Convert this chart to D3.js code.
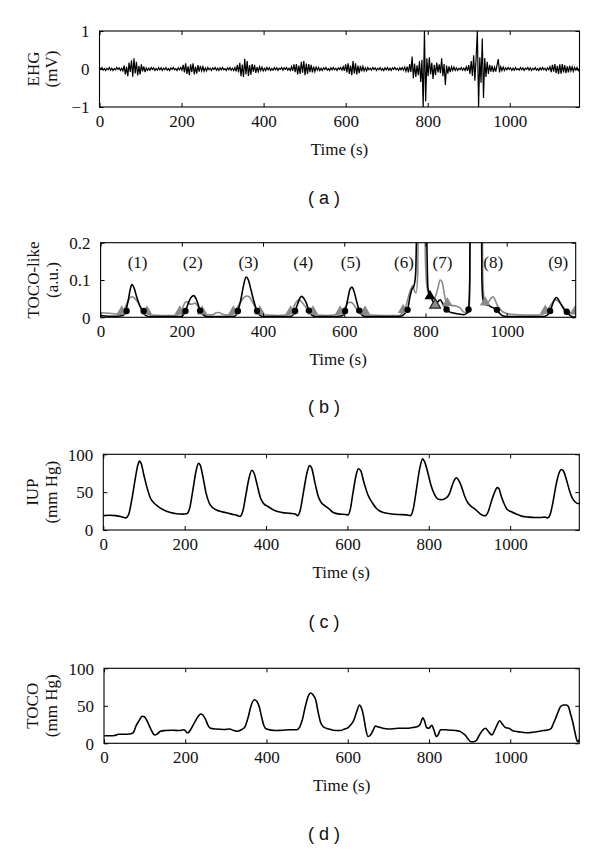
<!DOCTYPE html>
<html><head><meta charset="utf-8">
<script src="https://cdn.jsdelivr.net/npm/d3@7"></script>
<style>body{margin:0;background:#fff}</style>
</head><body><svg id="c" width="600" height="850"></svg>
<script>
// ---------- DATA ----------
const xTicks = [0, 200, 400, 600, 800, 1000];
const timeMax = 1170;

// EHG (mV), one sample every 3 s starting at 0 s
const ehgStep = 3;
const ehg = [
0.03,-0.01,0.04,-0.03,0.01,-0.04,0.02,-0.02,0.04,-0.03,
0.02,-0.04,0.01,-0.02,0.04,-0.01,0.03,-0.04,0.02,-0.05,
0.09,-0.14,0.06,-0.19,0.17,-0.08,0.23,-0.2,0.28,-0.12,
0.19,-0.17,0.08,-0.14,0.12,-0.06,0.07,-0.08,0.03,-0.04,
0.02,-0.03,0.04,-0.01,0.03,-0.04,0.01,-0.03,0.04,-0.02,
0.03,-0.04,0.02,-0.02,0.04,-0.03,0.01,-0.04,0.03,-0.01,
0.04,-0.02,0.01,-0.04,0.03,-0.02,0.04,-0.03,0.11,-0.09,
0.15,-0.13,0.07,-0.16,0.12,-0.08,0.15,-0.14,0.06,-0.12,
0.1,-0.07,0.08,-0.05,0.06,-0.06,0.03,-0.05,0.04,-0.02,
0.02,-0.04,0.03,-0.01,0.04,-0.03,0.02,-0.04,0.03,-0.02,
0.04,-0.02,0.01,-0.04,0.03,-0.02,0.04,-0.03,0.02,-0.04,
0.04,-0.06,0.11,-0.09,0.16,-0.19,0.12,-0.21,0.27,-0.14,
0.21,-0.18,0.1,-0.15,0.13,-0.07,0.11,-0.1,0.05,-0.07,
0.06,-0.04,0.05,-0.05,0.02,-0.04,0.04,-0.02,0.03,-0.04,
0.01,-0.03,0.04,-0.02,0.03,-0.04,0.02,-0.01,0.04,-0.03,
0.03,-0.01,0.04,-0.03,0.02,-0.04,0.06,-0.05,0.12,-0.08,
0.13,-0.14,0.09,-0.13,0.19,-0.1,0.21,-0.16,0.14,-0.13,
0.13,-0.08,0.11,-0.09,0.06,-0.07,0.05,-0.03,0.04,-0.04,
0.02,-0.04,0.03,-0.01,0.04,-0.03,0.01,-0.04,0.03,-0.02,
0.04,-0.02,0.02,-0.04,0.03,-0.01,0.04,-0.03,0.06,-0.05,
0.12,-0.09,0.15,-0.13,0.09,-0.16,0.21,-0.12,0.15,-0.14,
0.09,-0.11,0.08,-0.06,0.07,-0.05,0.03,-0.05,0.04,-0.02,
0.02,-0.03,0.04,-0.01,0.03,-0.04,0.02,-0.02,0.04,-0.03,
0.01,-0.04,0.03,-0.02,0.04,-0.03,0.02,-0.04,0.03,-0.01,
0.04,-0.02,0.02,-0.04,0.03,-0.02,0.04,-0.03,0.05,-0.06,
0.06,-0.09,0.13,-0.08,0.33,-0.24,0.14,-0.21,0.1,-0.16,
0.21,-0.34,0.24,-1.0,1.0,-0.85,0.28,-0.19,0.31,-0.14,
0.16,-0.26,0.11,-0.16,0.17,-0.09,0.12,-0.11,0.28,-0.19,
0.13,-0.42,0.09,-0.12,0.07,-0.08,0.06,-0.04,0.05,-0.04,
0.03,-0.04,0.02,-0.02,0.04,-0.03,0.02,-0.04,0.06,-0.05,
0.1,-0.13,0.21,-0.18,0.36,-0.31,0.29,1.0,-1.0,0.31,
-0.36,0.8,-0.76,0.29,-0.21,0.19,-0.13,0.11,-0.07,0.09,
-0.08,0.05,-0.07,0.1,0.26,-0.09,0.06,-0.04,0.05,-0.04,
0.03,-0.02,0.04,-0.01,0.03,-0.04,0.02,-0.03,0.04,-0.02,
0.01,-0.03,0.04,-0.02,0.03,-0.04,0.02,-0.01,0.04,-0.03,
0.03,-0.04,0.02,-0.02,0.04,-0.03,0.01,-0.04,0.03,-0.02,
0.04,-0.02,0.02,-0.04,0.03,-0.02,0.06,-0.08,0.11,-0.07,
0.13,-0.11,0.08,-0.13,0.12,-0.12,0.13,-0.09,0.1,-0.11,
0.07,-0.09,0.08,-0.05,0.06,-0.06,0.04,-0.03,0.04,-0.04,
0.02
];

// TOCO-like (a.u.), [time, value]
const tocoLikeBlack = [[0,0.004],[20,0.003],[40,0.003],[55,0.005],[62,0.017],[68,0.045],[73,0.075],[77,0.088],[82,0.08],[88,0.058],[95,0.035],[103,0.017],[110,0.006],[120,0.002],[150,0.002],[180,0.002],[200,0.003],[209,0.017],[215,0.035],[222,0.052],[229,0.058],[235,0.05],[240,0.035],[245,0.018],[252,0.007],[262,0.002],[300,0.002],[330,0.003],[338,0.017],[345,0.045],[352,0.085],[358,0.108],[364,0.1],[370,0.075],[377,0.045],[385,0.017],[392,0.006],[400,0.002],[440,0.002],[470,0.003],[479,0.017],[485,0.035],[491,0.052],[495,0.056],[500,0.052],[506,0.04],[513,0.018],[520,0.006],[530,0.002],[580,0.002],[596,0.005],[602,0.017],[608,0.045],[614,0.075],[619,0.081],[624,0.07],[630,0.045],[637,0.018],[644,0.006],[652,0.002],[700,0.002],[735,0.002],[745,0.006],[751,0.012],[756,0.02],[761,0.05],[766,0.073],[772,0.085],[776,0.12],[779,0.3],[783,0.6],[798,0.6],[802,0.3],[806,0.08],[810,0.058],[815,0.05],[820,0.04],[826,0.035],[831,0.042],[836,0.047],[841,0.04],[846,0.03],[852,0.021],[858,0.015],[866,0.012],[875,0.01],[885,0.008],[895,0.007],[903,0.012],[906,0.021],[909,0.1],[911,0.6],[936,0.6],[939,0.1],[942,0.045],[947,0.035],[955,0.032],[962,0.028],[968,0.025],[976,0.02],[983,0.01],[990,0.004],[1000,0.002],[1050,0.002],[1090,0.002],[1100,0.006],[1107,0.017],[1113,0.035],[1119,0.05],[1123,0.053],[1128,0.046],[1135,0.033],[1142,0.02],[1148,0.015],[1155,0.006],[1165,0.001],[1170,0.001]];
const tocoLikeGray = [[0,0.012],[20,0.011],[40,0.009],[50,0.008],[55,0.012],[60,0.025],[66,0.04],[72,0.052],[78,0.055],[85,0.05],[92,0.04],[100,0.025],[108,0.015],[115,0.01],[125,0.006],[150,0.005],[180,0.005],[195,0.01],[202,0.025],[207,0.038],[212,0.042],[218,0.036],[225,0.035],[232,0.038],[238,0.032],[245,0.02],[252,0.012],[260,0.007],[275,0.007],[285,0.012],[292,0.013],[300,0.008],[315,0.006],[328,0.01],[336,0.025],[344,0.04],[352,0.052],[360,0.057],[366,0.055],[372,0.045],[380,0.028],[388,0.015],[395,0.009],[410,0.006],[440,0.005],[465,0.008],[472,0.02],[478,0.033],[485,0.045],[490,0.046],[496,0.04],[503,0.03],[512,0.018],[520,0.01],[530,0.006],[560,0.005],[588,0.008],[596,0.018],[604,0.03],[611,0.04],[617,0.04],[624,0.033],[632,0.02],[642,0.01],[655,0.006],[700,0.005],[735,0.005],[745,0.015],[752,0.03],[758,0.055],[764,0.075],[769,0.085],[773,0.07],[777,0.065],[781,0.12],[784,0.6],[796,0.6],[800,0.15],[804,0.08],[808,0.065],[813,0.058],[818,0.05],[824,0.055],[830,0.075],[836,0.1],[841,0.095],[846,0.065],[851,0.04],[856,0.035],[865,0.032],[875,0.03],[885,0.025],[893,0.015],[900,0.012],[906,0.013],[909,0.05],[912,0.6],[938,0.6],[941,0.12],[945,0.045],[950,0.04],[956,0.042],[962,0.052],[967,0.055],[972,0.045],[978,0.03],[985,0.02],[995,0.012],[1010,0.008],[1050,0.006],[1080,0.006],[1095,0.012],[1102,0.022],[1110,0.035],[1117,0.045],[1123,0.046],[1130,0.04],[1138,0.03],[1145,0.02],[1152,0.015],[1160,0.012],[1170,0.012]];
const onsetCircles = [[64,0.017],[106,0.017],[209,0.017],[245,0.018],[338,0.017],[385,0.017],[479,0.017],[513,0.018],[602,0.017],[637,0.018],[756,0.02],[852,0.021],[906,0.021],[976,0.02],[1107,0.017],[1148,0.015]];
const grayTriangles = [[52,0.016],[114,0.016],[195,0.016],[250,0.016],[327,0.016],[392,0.016],[468,0.016],[523,0.016],[590,0.016],[651,0.016],[745,0.02],[854,0.038],[947,0.04],[1095,0.018],[1168,0.016]];
const blackTriangles = [[811,0.057]];
const openTriangles = [[824,0.033]];
const contractionLabels = ["(1)","(2)","(3)","(4)","(5)","(6)","(7)","(8)","(9)"];
const contractionLabelX = [91,227,364,499,616,747,842,967,1127];

// IUP (mm Hg)
const iup = [[0,19],[15,19.5],[30,19],[45,17.5],[55,16],[62,20],[70,40],[78,66],[85,86],[89,91],[93,88],[100,72],[108,55],[116,42],[124,36],[135,31],[150,26],[165,23],[180,21.5],[195,21],[205,21.5],[212,28],[220,52],[228,78],[234,88],[238,86],[245,70],[252,50],[260,36],[270,29],[285,25],[300,23],[315,21],[330,19],[336,18],[343,25],[350,45],[358,68],[365,79],[370,76],[378,60],[386,43],[394,35],[405,31],[420,26],[440,23],[460,22],[472,21],[478,19],[484,26],[492,50],[500,74],[507,85],[512,82],[520,63],[528,45],[536,36],[545,32],[555,28],[565,23],[580,21],[595,20.5],[602,20],[607,27],[614,50],[622,74],[627,81],[633,78],[640,64],[650,47],[660,37],[672,28],[688,23],[705,21.5],[725,20.5],[745,20],[755,19],[762,28],[770,55],[778,82],[785,94],[790,90],[798,75],[806,58],[815,46],[822,41],[832,40],[842,42],[850,47],[857,58],[864,67],[868,69],[873,66],[880,58],[888,45],[896,36],[905,31],[915,27],[925,22],[935,19],[940,19],[946,24],[954,38],[962,50],[968,56],[972,55],[978,45],[985,35],[993,27],[1003,24],[1015,21],[1030,18],[1045,17],[1060,16.5],[1075,16.5],[1085,17],[1092,16],[1098,20],[1105,36],[1113,60],[1120,75],[1126,80],[1131,78],[1138,67],[1146,52],[1153,42],[1160,37],[1166,35],[1172,35]];

// TOCO (mm Hg)
const toco = [[0,10],[15,10],[26,10.5],[36,12],[55,12],[69,13],[74,16],[78,22],[86,30],[94,36],[100,35],[106,30],[111,24],[116,18],[121,13],[125,11],[130,12],[139,16],[150,17],[168,17.5],[185,17],[196,18],[200,17],[205,14],[209,15],[213,18],[222,27],[232,36],[238,39],[243,38],[250,32],[256,24],[262,20],[275,19],[295,18.5],[309,19],[320,17],[328,16],[338,18],[347,22],[355,35],[362,50],[370,58],[376,56],[382,49],[388,35],[394,23],[400,19],[422,17],[440,17.5],[460,18],[474,18],[482,22],[488,31],[496,50],[503,63],[508,67],[514,65],[521,58],[527,42],[533,28],[540,22],[554,19],[570,17],[582,17],[592,19],[601,21],[608,25],[615,31],[622,42],[629,51],[633,48],[639,36],[644,20],[650,9],[656,11],[663,18],[668,23],[674,22],[686,20],[700,19],[724,20],[745,20],[760,21],[771,22],[778,25],[785,34],[789,30],[794,21],[800,20],[807,24],[812,18],[818,9],[824,13],[828,18],[840,18],[852,17.5],[866,17],[875,16],[882,14],[889,11],[896,6],[903,2],[910,2],[917,4],[925,12],[933,18],[939,20],[946,16],[952,12],[955,11],[962,18],[968,25],[974,30],[980,26],[988,21],[997,20],[1005,17],[1011,16],[1025,15],[1044,14],[1060,15],[1082,17],[1095,18],[1101,20],[1106,26],[1110,31],[1118,42],[1124,49],[1131,51],[1138,51],[1143,49],[1149,38],[1154,28],[1158,18],[1162,8],[1166,2],[1169,3],[1172,9]];

// ---------- DRAWING ----------
const svg = d3.select("#c");
const SERIF = "'Liberation Serif','Times New Roman',serif";
const SANS = "'Liberation Sans',Arial,sans-serif";
const FS = 17;
const GRAY = "#8a8a8a";

function panel(o) {
  const x = d3.scaleLinear().domain([0, timeMax]).range([o.x0, o.x1]);
  const y = d3.scaleLinear().domain(o.yDomain).range([o.y1, o.y0]);
  const g = svg.append("g");
  const id = "clip" + o.key;
  svg.append("clipPath").attr("id", id).append("rect")
    .attr("x", o.x0).attr("y", o.y0).attr("width", o.x1 - o.x0).attr("height", o.y1 - o.y0);
  const plot = g.append("g").attr("clip-path", `url(#${id})`);

  const bottom = g.append("g").attr("transform", `translate(0,${o.y1})`)
    .call(d3.axisBottom(x).tickValues(xTicks).tickSize(-4).tickSizeOuter(0).tickFormat(d3.format("d")));
  bottom.selectAll("text").attr("y", 19.5).attr("dy", null);
  g.append("g").attr("transform", `translate(0,${o.y0})`)
    .call(d3.axisTop(x).tickValues(xTicks).tickSize(-4).tickSizeOuter(0).tickFormat(""));
  const left = g.append("g").attr("transform", `translate(${o.x0},0)`)
    .call(d3.axisLeft(y).tickValues(o.yTicks).tickSize(-4).tickSizeOuter(0).tickFormat(o.yFmt).tickPadding(10));
  g.append("g").attr("transform", `translate(${o.x1},0)`)
    .call(d3.axisRight(y).tickValues(o.yTicks).tickSize(-4).tickSizeOuter(0).tickFormat(""));
  g.selectAll(".domain").remove();
  g.selectAll(".tick line").attr("stroke", "#000").attr("stroke-width", 1);
  g.selectAll(".tick text").attr("font-family", SERIF).attr("font-size", FS).attr("fill", "#111");
  left.selectAll("text").attr("dy", "0.34em");
  g.append("rect").attr("x", o.x0).attr("y", o.y0).attr("width", o.x1 - o.x0).attr("height", o.y1 - o.y0)
    .attr("fill", "none").attr("stroke", "#000").attr("stroke-width", 1.1);

  g.append("text").attr("x", (o.x0 + o.x1) / 2).attr("y", o.y1 + 47.5).attr("text-anchor", "middle")
    .attr("font-family", SERIF).attr("font-size", FS).attr("fill", "#111").text("Time (s)");
  const cy = (o.y0 + o.y1) / 2;
  const yl = g.append("text").attr("transform", `translate(0,${cy}) rotate(-90)`)
    .attr("text-anchor", "middle").attr("font-family", SERIF).attr("font-size", FS).attr("fill", "#111");
  yl.append("tspan").attr("x", 0).attr("y", o.labX1 + 6).text(o.lab1);
  yl.append("tspan").attr("x", 0).attr("y", o.labX2 + 6).text(o.lab2);
  g.append("text").attr("x", 324).attr("y", o.capY).attr("text-anchor", "middle")
    .attr("font-family", SANS).attr("font-size", 18).attr("fill", "#111").attr("xml:space", "preserve").text(o.cap);
  return { x, y, plot };
}

// (a) EHG
{
  const p = panel({ key: "a", x0: 99.5, x1: 579.5, y0: 31, y1: 107, yDomain: [-1, 1], yTicks: [-1, 0, 1],
    yFmt: d => d < 0 ? "\u2212" + Math.abs(d) : String(d), lab1: "EHG", lab2: "(mV)", labX1: 33, labX2: 51, cap: "( a )", capY: 203.5 });
  const line = d3.line().x((d, i) => p.x(i * ehgStep)).y(d => p.y(d));
  p.plot.append("path").datum(ehg).attr("d", line).attr("fill", "none").attr("stroke", "#000").attr("stroke-width", 1.2);
}

// (b) TOCO-like
{
  const p = panel({ key: "b", x0: 100.6, x1: 575.7, y0: 242.7, y1: 317.3, yDomain: [0, 0.2], yTicks: [0, 0.1, 0.2],
    yFmt: d => d === 0 ? "0" : d3.format(".1f")(d), lab1: "TOCO-like", lab2: "(a.u.)", labX1: 33, labX2: 52, cap: "( b )", capY: 413.3 });
  const line = d3.line().x(d => p.x(d[0])).y(d => p.y(d[1])).curve(d3.curveMonotoneX);
  p.plot.append("path").datum(tocoLikeGray).attr("d", line).attr("fill", "none").attr("stroke", GRAY).attr("stroke-width", 1.6);
  p.plot.append("path").datum(tocoLikeBlack).attr("d", line).attr("fill", "none").attr("stroke", "#000").attr("stroke-width", 1.6);
  const tri = d3.symbol(d3.symbolTriangle).size(50);
  p.plot.selectAll(".gt").data(grayTriangles).join("path")
    .attr("transform", d => `translate(${p.x(d[0])},${p.y(d[1])})`).attr("d", tri).attr("fill", GRAY);
  p.plot.selectAll(".bt").data(blackTriangles).join("path")
    .attr("transform", d => `translate(${p.x(d[0])},${p.y(d[1])})`).attr("d", tri).attr("fill", "#000");
  p.plot.selectAll(".ot").data(openTriangles).join("path")
    .attr("transform", d => `translate(${p.x(d[0])},${p.y(d[1])})`).attr("d", tri).attr("fill", GRAY).attr("stroke", "#222").attr("stroke-width", 1.2);
  p.plot.selectAll(".bc").data(onsetCircles).join("circle")
    .attr("cx", d => p.x(d[0])).attr("cy", d => p.y(d[1])).attr("r", 3.2).attr("fill", "#000");
  svg.append("g").selectAll("text").data(contractionLabels).join("text")
    .attr("x", (d, i) => p.x(contractionLabelX[i])).attr("y", 267.5).attr("text-anchor", "middle")
    .attr("font-family", SERIF).attr("font-size", FS).attr("fill", "#111").text(d => d);
}

// (c) IUP
{
  const p = panel({ key: "c", x0: 103.3, x1: 579.3, y0: 454.3, y1: 530, yDomain: [0, 100], yTicks: [0, 50, 100],
    yFmt: d3.format("d"), lab1: "IUP", lab2: "(mm Hg)", labX1: 32, labX2: 51, cap: "( c )", capY: 627.5 });
  const line = d3.line().x(d => p.x(d[0])).y(d => p.y(d[1])).curve(d3.curveMonotoneX);
  p.plot.append("path").datum(iup).attr("d", line).attr("fill", "none").attr("stroke", "#000").attr("stroke-width", 1.6);
}

// (d) TOCO
{
  const p = panel({ key: "d", x0: 104, x1: 579.3, y0: 668.3, y1: 743.3, yDomain: [0, 100], yTicks: [0, 50, 100],
    yFmt: d3.format("d"), lab1: "TOCO", lab2: "(mm Hg)", labX1: 32, labX2: 51, cap: "( d )", capY: 840 });
  const line = d3.line().x(d => p.x(d[0])).y(d => p.y(d[1])).curve(d3.curveMonotoneX);
  p.plot.append("path").datum(toco).attr("d", line).attr("fill", "none").attr("stroke", "#000").attr("stroke-width", 1.6);
}
</script>
</body></html>
